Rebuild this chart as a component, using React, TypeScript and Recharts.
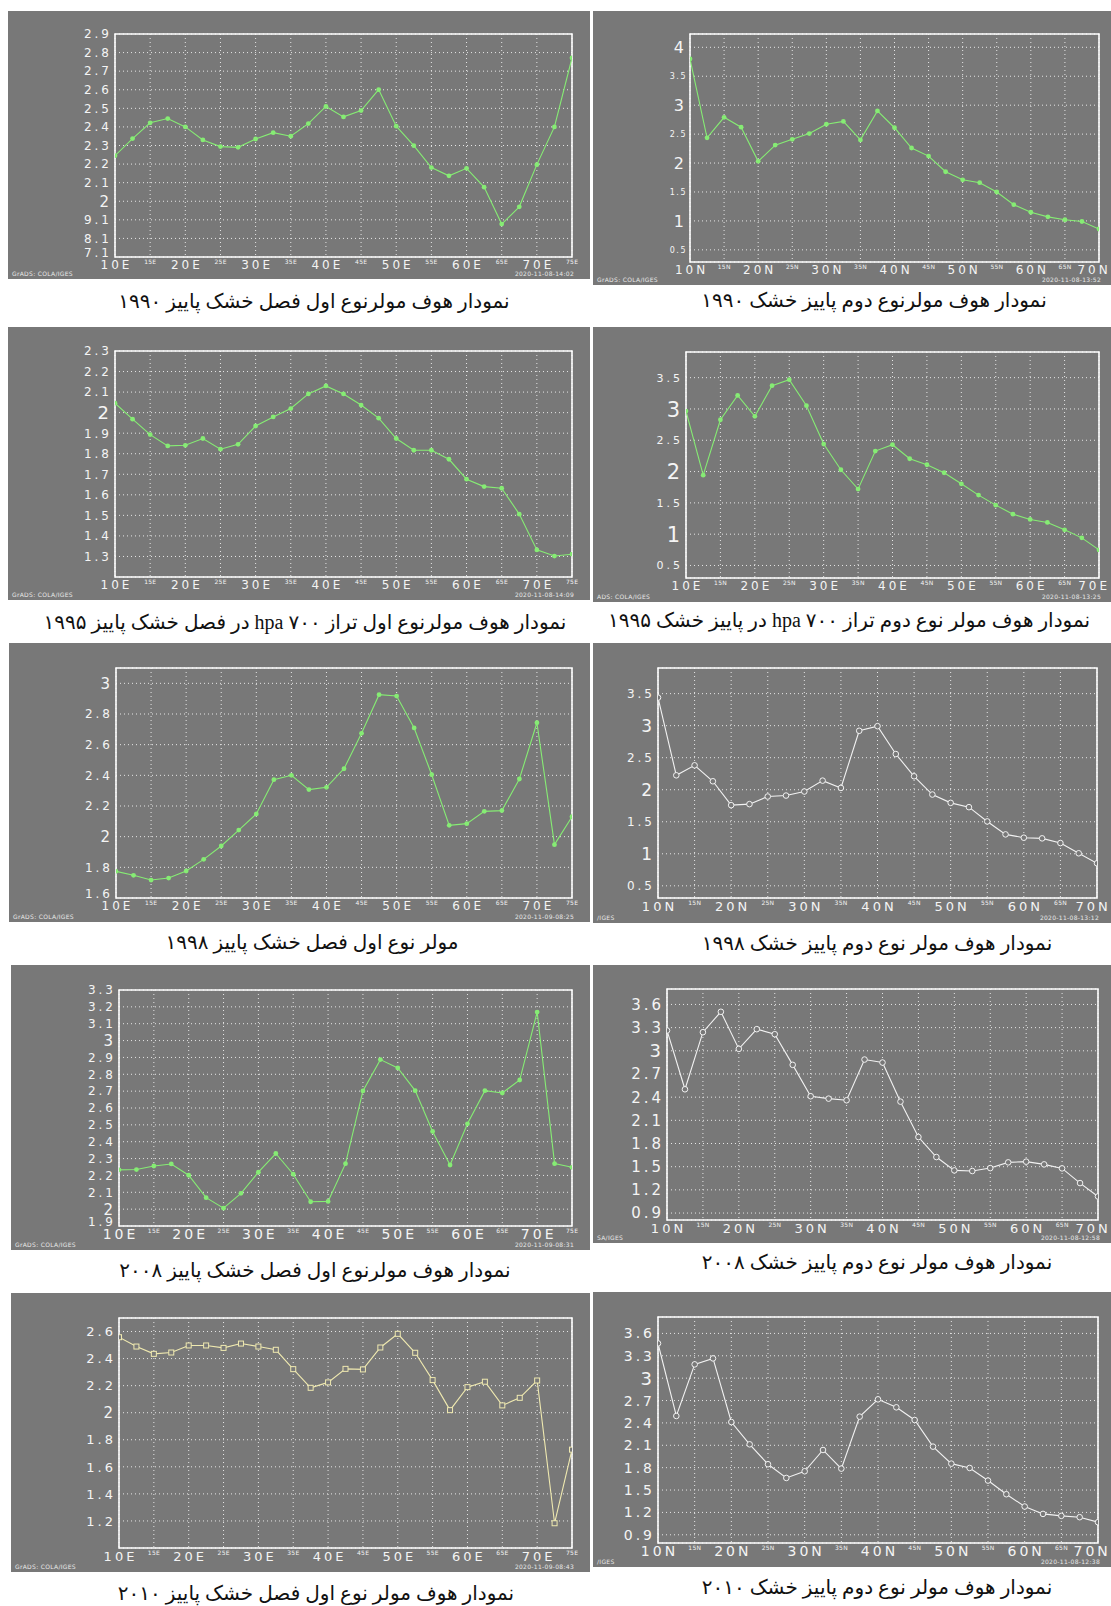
import React from 'react';
import { LineChart, Line, XAxis, YAxis, CartesianGrid, ReferenceArea } from 'recharts';

// longitudes / latitudes (every 2.5 degrees)
const lonE = [10, 12.5, 15, 17.5, 20, 22.5, 25, 27.5, 30, 32.5, 35, 37.5, 40, 42.5, 45, 47.5, 50, 52.5, 55, 57.5, 60, 62.5, 65, 67.5, 70, 72.5, 75];
const latN = [10, 12.5, 15, 17.5, 20, 22.5, 25, 27.5, 30, 32.5, 35, 37.5, 40, 42.5, 45, 47.5, 50, 52.5, 55, 57.5, 60, 62.5, 65, 67.5, 70];

const tickE = [10, 15, 20, 25, 30, 35, 40, 45, 50, 55, 60, 65, 70, 75];
const tickN = [10, 15, 20, 25, 30, 35, 40, 45, 50, 55, 60, 65, 70];
const labelsE = ['10E', '15E', '20E', '25E', '30E', '35E', '40E', '45E', '50E', '55E', '60E', '65E', '70E', '75E'];
const labelsN = ['10N', '15N', '20N', '25N', '30N', '35N', '40N', '45N', '50N', '55N', '60N', '65N', '70N'];
const labelsMix = ['10E', '15N', '20E', '25N', '30E', '35N', '40E', '45N', '50E', '55N', '60E', '65N', '70E'];

// series values
const hov1990a = [2.245, 2.337, 2.422, 2.445, 2.40, 2.330, 2.294, 2.290, 2.335, 2.369, 2.350, 2.418, 2.510, 2.454, 2.488, 2.601, 2.404, 2.299, 2.181, 2.137, 2.177, 2.076, 1.877, 1.970, 2.197, 2.40, 2.771];
const hov1990b = [3.80, 2.435, 2.79, 2.62, 2.03, 2.31, 2.41, 2.51, 2.67, 2.72, 2.40, 2.90, 2.61, 2.26, 2.12, 1.85, 1.71, 1.66, 1.50, 1.28, 1.15, 1.07, 1.02, 0.99, 0.86];
const hov1995a = [2.046, 1.968, 1.893, 1.838, 1.841, 1.874, 1.822, 1.846, 1.935, 1.979, 2.020, 2.091, 2.130, 2.091, 2.037, 1.973, 1.874, 1.817, 1.817, 1.773, 1.676, 1.640, 1.632, 1.506, 1.332, 1.302, 1.311];
const hov1995b = [2.967, 1.943, 2.828, 3.217, 2.882, 3.372, 3.468, 3.052, 2.439, 2.029, 1.72, 2.327, 2.429, 2.205, 2.109, 1.981, 1.805, 1.624, 1.464, 1.32, 1.235, 1.187, 1.069, 0.941, 0.749];
const hov1998a = [1.774, 1.748, 1.717, 1.730, 1.776, 1.852, 1.939, 2.043, 2.148, 2.372, 2.40, 2.307, 2.322, 2.443, 2.674, 2.926, 2.917, 2.709, 2.404, 2.074, 2.085, 2.165, 2.170, 2.376, 2.743, 1.948, 2.13];
const hov1998b = [3.438, 2.225, 2.381, 2.132, 1.759, 1.775, 1.894, 1.909, 1.972, 2.142, 2.028, 2.92, 2.992, 2.557, 2.21, 1.925, 1.795, 1.728, 1.505, 1.303, 1.251, 1.241, 1.168, 1.008, 0.852];
const hov2008a = [2.233, 2.235, 2.256, 2.268, 2.201, 2.068, 2.006, 2.094, 2.219, 2.33, 2.207, 2.044, 2.046, 2.27, 2.701, 2.887, 2.838, 2.703, 2.461, 2.262, 2.506, 2.703, 2.689, 2.766, 3.169, 2.27, 2.248];
const hov2008b = [3.263, 2.502, 3.241, 3.505, 3.025, 3.28, 3.215, 2.818, 2.412, 2.381, 2.36, 2.887, 2.848, 2.342, 1.884, 1.625, 1.452, 1.444, 1.482, 1.556, 1.565, 1.53, 1.478, 1.288, 1.115];
const hov2010a = [2.558, 2.489, 2.435, 2.445, 2.497, 2.497, 2.479, 2.511, 2.489, 2.465, 2.322, 2.184, 2.224, 2.324, 2.32, 2.482, 2.583, 2.443, 2.241, 2.019, 2.189, 2.229, 2.054, 2.11, 2.238, 1.183, 1.727];
const hov2010b = [3.466, 2.493, 3.185, 3.265, 2.412, 2.113, 1.846, 1.662, 1.752, 2.037, 1.787, 2.484, 2.716, 2.609, 2.439, 2.082, 1.854, 1.796, 1.627, 1.444, 1.279, 1.18, 1.154, 1.136, 1.069];

// y ticks and their printed labels
const yTicks1990a = [1.7, 1.8, 1.9, 2, 2.1, 2.2, 2.3, 2.4, 2.5, 2.6, 2.7, 2.8, 2.9];
const yLabels1990a = ['7.1', '8.1', '9.1', '2', '2.1', '2.2', '2.3', '2.4', '2.5', '2.6', '2.7', '2.8', '2.9'];
const yTicksHalf = [0.5, 1, 1.5, 2, 2.5, 3, 3.5];
const yTicks1990b = [0.5, 1, 1.5, 2, 2.5, 3, 3.5, 4];
const yTicks1995a = [1.3, 1.4, 1.5, 1.6, 1.7, 1.8, 1.9, 2, 2.1, 2.2, 2.3];
const yTicks1998a = [1.6, 1.8, 2, 2.2, 2.4, 2.6, 2.8, 3];
const yTicks2008a = [1.9, 2, 2.1, 2.2, 2.3, 2.4, 2.5, 2.6, 2.7, 2.8, 2.9, 3, 3.1, 3.2, 3.3];
const yTicksThird = [0.9, 1.2, 1.5, 1.8, 2.1, 2.4, 2.7, 3, 3.3, 3.6];
const yTicks2010a = [1.2, 1.4, 1.6, 1.8, 2, 2.2, 2.4, 2.6];

const captions = [
  'نمودار هوف مولرنوع اول فصل خشک پاییز ۱۹۹۰',
  'نمودار هوف مولرنوع دوم پاییز خشک ۱۹۹۰',
  'نمودار هوف مولرنوع اول تراز ۷۰۰ hpa  در فصل خشک پاییز ۱۹۹۵',
  'نمودار هوف مولر نوع دوم تراز ۷۰۰ hpa در پاییز خشک ۱۹۹۵',
  'مولر نوع اول فصل خشک پاییز ۱۹۹۸',
  'نمودار هوف مولر نوع دوم پاییز خشک ۱۹۹۸',
  'نمودار هوف مولرنوع اول فصل خشک پاییز ۲۰۰۸',
  'نمودار هوف مولر نوع دوم پاییز خشک ۲۰۰۸',
  'نمودار هوف مولر نوع اول فصل خشک پاییز ۲۰۱۰',
  'نمودار هوف مولر نوع دوم پاییز خشک ۲۰۱۰',
];

const stamps = ['2020-11-08-14:02', '2020-11-08-13:52', '2020-11-08-14:09', '2020-11-08-13:25', '2020-11-09-08:25', '2020-11-08-13:12', '2020-11-09-08:31', '2020-11-08-12:58', '2020-11-09-08:43', '2020-11-08-12:38'];
const credits = ['GrADS: COLA/IGES', 'GrADS: COLA/IGES', 'GrADS: COLA/IGES', 'ADS: COLA/IGES', 'GrADS: COLA/IGES', '/IGES', 'GrADS: COLA/IGES', 'SA/IGES', 'GrADS: COLA/IGES', '/IGES'];

const GRAY = '#787878';
const GREEN = '#86ec74';
const WHITE = '#f2f2f2';
const PALE = '#efe9b0';
const LABEL = '#f4f4f4';
const AXIS_FONT = '"DejaVu Sans", Verdana, sans-serif';

type Cfg = {
  x: number[]; y: number[];
  xTicks: number[]; xLabels: string[]; xDomain: [number, number];
  yTicks: number[]; yLabels?: string[]; yDomain: [number, number];
  box: [number, number, number, number];
  frame: [number, number, number, number];
  cap: [number, number];
  color: string; marker: 'dot' | 'circle' | 'square';
  yFs: number; yFsInt: number; xFs: number; ls: number;
};

const panels: Cfg[] = [
  { x: lonE, y: hov1990a, xTicks: tickE, xLabels: labelsE, xDomain: [10, 75], yTicks: yTicks1990a, yLabels: yLabels1990a, yDomain: [1.7, 2.9],
    box: [8, 11, 582, 268], frame: [115, 34, 572, 257], cap: [314, 301], color: GREEN, marker: 'dot', yFs: 12, yFsInt: 15, xFs: 12, ls: 3 },
  { x: latN, y: hov1990b, xTicks: tickN, xLabels: labelsN, xDomain: [10, 70], yTicks: yTicks1990b, yDomain: [0.29, 4.23],
    box: [593, 11, 518, 274], frame: [690, 34, 1099, 262], cap: [874, 300], color: GREEN, marker: 'dot', yFs: 8, yFsInt: 16, xFs: 12, ls: 3 },
  { x: lonE, y: hov1995a, xTicks: tickE, xLabels: labelsE, xDomain: [10, 75], yTicks: yTicks1995a, yDomain: [1.2, 2.3],
    box: [8, 327, 582, 273], frame: [115, 351, 572, 577], cap: [305, 622], color: GREEN, marker: 'dot', yFs: 12, yFsInt: 18, xFs: 12, ls: 3 },
  { x: latN, y: hov1995b, xTicks: tickN, xLabels: labelsMix, xDomain: [10, 70], yTicks: yTicksHalf, yDomain: [0.3, 3.91],
    box: [593, 327, 518, 275], frame: [686, 352, 1099, 578], cap: [849, 620], color: GREEN, marker: 'dot', yFs: 11, yFsInt: 21, xFs: 12, ls: 3 },
  { x: lonE, y: hov1998a, xTicks: tickE, xLabels: labelsE, xDomain: [10, 75], yTicks: yTicks1998a, yDomain: [1.6, 3.1],
    box: [9, 643, 581, 279], frame: [116, 668, 572, 898], cap: [312, 942], color: GREEN, marker: 'dot', yFs: 12, yFsInt: 15, xFs: 12, ls: 3 },
  { x: latN, y: hov1998b, xTicks: tickN, xLabels: labelsN, xDomain: [10, 70], yTicks: yTicksHalf, yDomain: [0.31, 3.9],
    box: [593, 643, 518, 280], frame: [658, 668, 1097, 898], cap: [877, 943], color: WHITE, marker: 'circle', yFs: 12, yFsInt: 17, xFs: 13, ls: 3 },
  { x: lonE, y: hov2008a, xTicks: tickE, xLabels: labelsE, xDomain: [10, 75], yTicks: yTicks2008a, yDomain: [1.9, 3.3],
    box: [11, 965, 579, 285], frame: [119, 990, 572, 1226], cap: [315, 1270], color: GREEN, marker: 'dot', yFs: 12, yFsInt: 15, xFs: 14, ls: 3 },
  { x: latN, y: hov2008b, xTicks: tickN, xLabels: labelsN, xDomain: [10, 70], yTicks: yTicksThird, yDomain: [0.81, 3.8],
    box: [593, 965, 518, 278], frame: [667, 989, 1098, 1220], cap: [877, 1262], color: WHITE, marker: 'circle', yFs: 15, yFsInt: 18, xFs: 13, ls: 3 },
  { x: lonE, y: hov2010a, xTicks: tickE, xLabels: labelsE, xDomain: [10, 75], yTicks: yTicks2010a, yDomain: [1.0, 2.7],
    box: [11, 1293, 579, 279], frame: [119, 1318, 572, 1548], cap: [316, 1593], color: PALE, marker: 'square', yFs: 13, yFsInt: 15, xFs: 13, ls: 3 },
  { x: latN, y: hov2010b, xTicks: tickN, xLabels: labelsN, xDomain: [10, 70], yTicks: yTicksThird, yDomain: [0.79, 3.82],
    box: [593, 1292, 518, 275], frame: [658, 1317, 1098, 1543], cap: [877, 1587], color: WHITE, marker: 'circle', yFs: 14, yFsInt: 18, xFs: 14, ls: 3 },
];

function Panel({ cfg, idx }: { cfg: Cfg; idx: number }) {
  const [bx, by, bw, bh] = cfg.box;
  const [fl, ft, fr, fb] = cfg.frame;
  const data = cfg.x.map((x, i) => ({ x, v: cfg.y[i] }));

  const xTick = (props: any) => {
    const { x, y, payload } = props;
    const i = cfg.xTicks.indexOf(payload.value);
    const label = cfg.xLabels[i] || '';
    const major = payload.value % 10 === 0;
    const fs = major ? cfg.xFs : 6;
    const ls = major ? cfg.ls : 0.3;
    // keep the last label inside the grey panel
    const half = (label.length * (fs * 0.66 + ls)) / 2;
    const cx = Math.min(x, bw - 2 - half);
    return (
      <text x={cx + ls / 2} y={y + 3 + fs * 0.74} textAnchor="middle" fill={LABEL} fontSize={fs}
        letterSpacing={ls} fontFamily={AXIS_FONT}>
        {label}
      </text>
    );
  };

  const yTick = (props: any) => {
    const { x, y, payload } = props;
    const i = cfg.yTicks.indexOf(payload.value);
    const text = cfg.yLabels ? cfg.yLabels[i] : String(payload.value);
    const fs = text.indexOf('.') < 0 ? cfg.yFsInt : cfg.yFs;
    const lift = i === 0 && cfg.yTicks[0] === cfg.yDomain[0] ? 4 : 0;
    return (
      <text x={x - 3} y={y + fs * 0.36 - lift} textAnchor="end" fill={LABEL} fontSize={fs}
        letterSpacing={fs > 10 ? cfg.ls : 1.5} fontFamily={AXIS_FONT}>
        {text}
      </text>
    );
  };

  const dot = (p: any) => {
    if (p.cx == null || p.cy == null) return <g key={p.index} />;
    if (cfg.marker === 'square') {
      return <rect key={p.index} x={p.cx - 2.5} y={p.cy - 2.5} width={5} height={5} fill={GRAY} stroke={cfg.color} strokeWidth={1} />;
    }
    if (cfg.marker === 'circle') {
      return <circle key={p.index} cx={p.cx} cy={p.cy} r={2.8} fill={GRAY} stroke={cfg.color} strokeWidth={1} />;
    }
    return <circle key={p.index} cx={p.cx} cy={p.cy} r={2.4} fill={cfg.color} stroke="none" />;
  };

  return (
    <>
      <div style={{ position: 'absolute', left: bx, top: by, width: bw, height: bh, background: GRAY, overflow: 'hidden' }}>
        <LineChart width={bw} height={bh} data={data}
          margin={{ top: ft - by, right: bx + bw - fr, left: 0, bottom: 0 }}>
          <CartesianGrid stroke="#e6e6e6" strokeDasharray="1 3" strokeWidth={1} />
          <XAxis dataKey="x" type="number" domain={cfg.xDomain} ticks={cfg.xTicks} interval={0}
            allowDataOverflow height={by + bh - fb} axisLine={false} tickLine={false} tickSize={0} tickMargin={0} tick={xTick} />
          <YAxis type="number" domain={cfg.yDomain} ticks={cfg.yTicks} interval={0} allowDataOverflow
            width={fl - bx} axisLine={false} tickLine={false} tickSize={0} tickMargin={0} tick={yTick} />
          <ReferenceArea x1={cfg.xDomain[0]} x2={cfg.xDomain[1]} y1={cfg.yDomain[0]} y2={cfg.yDomain[1]}
            fill="none" fillOpacity={0} stroke="#ffffff" strokeWidth={1.6} ifOverflow="visible" />
          <Line dataKey="v" type="linear" stroke={cfg.color} strokeWidth={1.1} dot={dot} activeDot={false}
            isAnimationActive={false} />
        </LineChart>
        <div style={{ position: 'absolute', left: 4, bottom: 2, fontSize: 6, color: '#e8e8e8', fontFamily: AXIS_FONT, letterSpacing: 0.3 }}>
          {credits[idx]}
        </div>
        <div style={{ position: 'absolute', right: bx + bw - fr - 2, bottom: 2, fontSize: 6, color: '#e8e8e8', fontFamily: AXIS_FONT, letterSpacing: 0.3 }}>
          {stamps[idx]}
        </div>
      </div>
      <div dir="rtl" style={{ position: 'absolute', left: cfg.cap[0] - 300, top: cfg.cap[1] - 14, width: 600, textAlign: 'center',
        fontSize: 20, lineHeight: '28px', color: '#111', fontFamily: '"Times New Roman", "Liberation Serif", "DejaVu Sans", serif', whiteSpace: 'nowrap' }}>
        {captions[idx]}
      </div>
    </>
  );
}

export default function App() {
  return (
    <div style={{ position: 'absolute', left: 0, top: 0, width: 1111, height: 1606, background: '#ffffff', overflow: 'hidden' }}>
      {panels.map((p, i) => <Panel key={i} cfg={p} idx={i} />)}
    </div>
  );
}
